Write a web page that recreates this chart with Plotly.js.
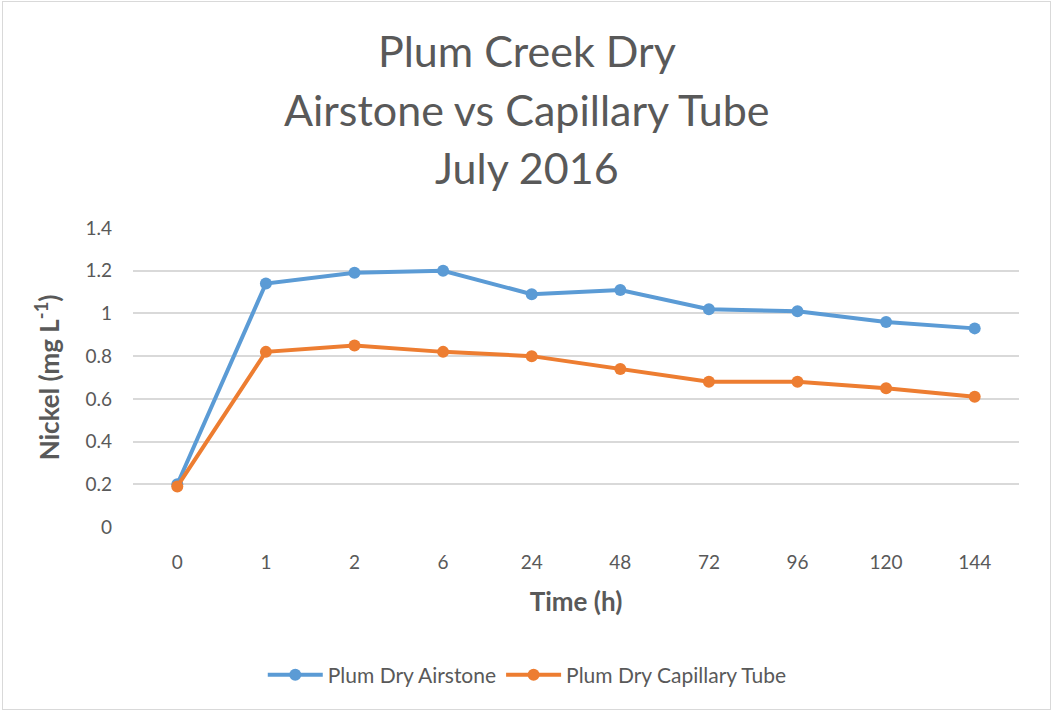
<!DOCTYPE html>
<html>
<head>
<meta charset="utf-8">
<script src="https://cdn.plot.ly/plotly-3.0.1.min.js"></script>
<style>
html,body{margin:0;padding:0;background:#fff;}
#chart{width:1053px;height:712px;position:relative;}
#frame{position:absolute;left:2px;top:1px;width:1047px;height:707px;border:1px solid #d9d9d9;pointer-events:none;}
</style>
</head>
<body>
<div id="chart"></div>
<div id="frame"></div>
<script>
const timeLabels = ["0","1","2","6","24","48","72","96","120","144"];
const airstone = [0.20, 1.14, 1.19, 1.20, 1.09, 1.11, 1.02, 1.01, 0.96, 0.93];
const capillary = [0.19, 0.82, 0.85, 0.82, 0.80, 0.74, 0.68, 0.68, 0.65, 0.61];
const seriesNames = ["Plum Dry Airstone", "Plum Dry Capillary Tube"];
const titleLines = ["Plum Creek Dry", "Airstone vs Capillary Tube", "July 2016"];

const FONT = "Lato, 'Open Sans', sans-serif";
const traces = [
  {x: timeLabels, y: airstone, name: seriesNames[0], type: "scatter", mode: "lines+markers",
   line: {color: "#5b9bd5", width: 4}, marker: {color: "#5b9bd5", size: 12}},
  {x: timeLabels, y: capillary, name: seriesNames[1], type: "scatter", mode: "lines+markers",
   line: {color: "#ed7d31", width: 4}, marker: {color: "#ed7d31", size: 12}}
];

// plot area spans pixels 228..527 vertically; title line centers at ~50, 110, 168
const titleY = [1.595, 1.395, 1.201];
const annotations = titleLines.map((t, i) => ({
  text: t, xref: "paper", yref: "paper", x: 0.445, y: titleY[i],
  xanchor: "center", yanchor: "middle", showarrow: false,
  font: {family: FONT, size: 43, color: "#595959"}
}));

const layout = {
  width: 1053, height: 712,
  paper_bgcolor: "#fff", plot_bgcolor: "#fff",
  margin: {l: 133, r: 34, t: 228, b: 185},
  font: {family: FONT, color: "#595959"},
  annotations: annotations,
  xaxis: {type: "category", range: [-0.5, 9.5], showgrid: false, zeroline: false,
          showline: false, ticks: "", tickfont: {size: 19, color: "#595959"},
          ticklabelstandoff: 22,
          title: {text: "<b>Time (h)</b>", font: {size: 26, color: "#595959"}, standoff: 20}},
  yaxis: {range: [0, 1.4], dtick: 0.2, showgrid: true, gridcolor: "#d9d9d9", gridwidth: 2,
          zeroline: false, showline: false, ticks: "", tickfont: {size: 19, color: "#595959"},
          ticklabelstandoff: 20,
          title: {text: "<b>Nickel (mg L<sup>-1</sup>)</b>", font: {size: 26, color: "#595959"}, standoff: 18}},
  showlegend: true,
  legend: {orientation: "h", x: 0.445, xanchor: "center", y: -0.495, yanchor: "middle",
           font: {size: 21, color: "#595959"}, itemwidth: 55},
  hovermode: false
};

Plotly.newPlot("chart", traces, layout, {displayModeBar: false, staticPlot: true});
</script>
</body>
</html>
